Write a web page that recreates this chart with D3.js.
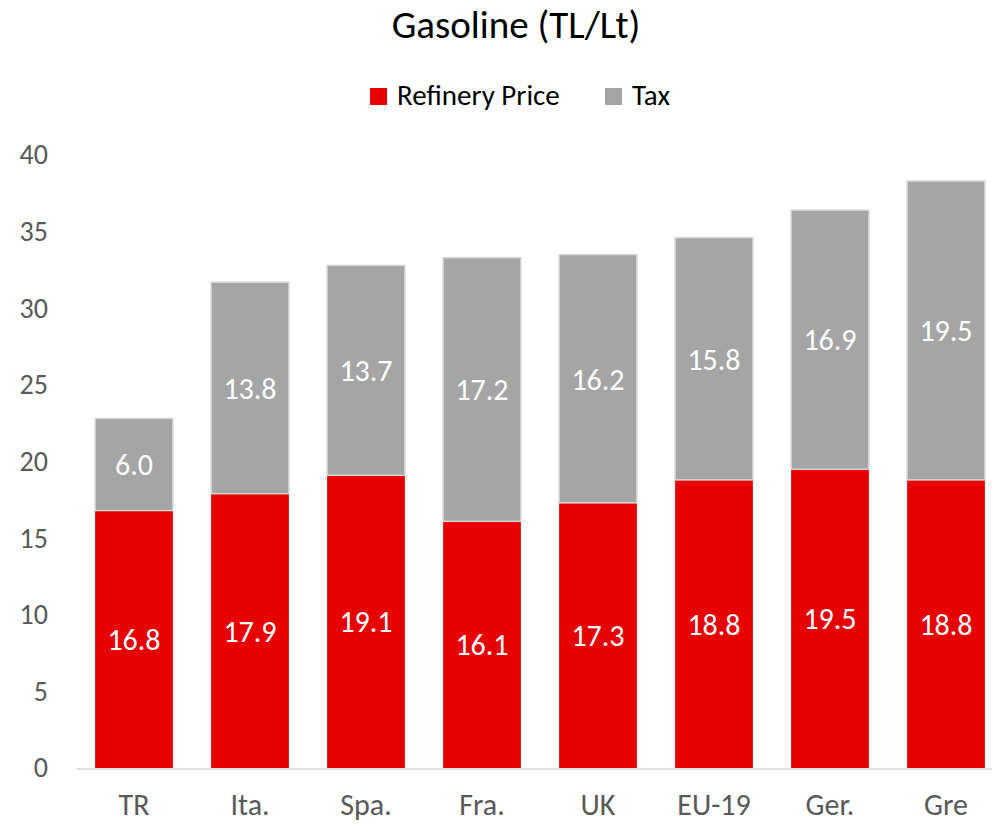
<!DOCTYPE html>
<html>
<head>
<meta charset="utf-8">
<script src="https://cdn.jsdelivr.net/npm/d3@7"></script>
<style>
  html, body { margin: 0; padding: 0; background: #fff; }
  svg { display: block; font-family: Carlito, "Open Sans", sans-serif; }
</style>
</head>
<body>
<svg id="chart" width="992" height="825"></svg>
<script>
// Gasoline price breakdown by country (TL per litre)
const categories = ["TR", "Ita.", "Spa.", "Fra.", "UK", "EU-19", "Ger.", "Gre"];
const refineryPrice = [16.8, 17.9, 19.1, 16.1, 17.3, 18.8, 19.5, 18.8];
const tax = [6.0, 13.8, 13.7, 17.2, 16.2, 15.8, 16.9, 19.5];
const yTicks = [0, 5, 10, 15, 20, 25, 30, 35, 40];
const seriesNames = ["Refinery Price", "Tax"];
const seriesColors = ["#E60000", "#A5A5A5"];

const FONT = "Carlito, 'Open Sans', sans-serif";
const svg = d3.select("#chart");

const x = d3.scaleBand()
  .domain(categories)
  .range([76, 1004])
  .paddingInner(0.33)
  .paddingOuter(0.165);

const y = d3.scaleLinear()
  .domain([0, 40])
  .range([768, 155]);

// Stack the two components
const rows = categories.map((c, i) => ({ cat: c, "Refinery Price": refineryPrice[i], "Tax": tax[i] }));
const stacked = d3.stack().keys(seriesNames)(rows);

// Title
svg.append("text")
  .attr("x", 516)
  .attr("y", 38)
  .attr("text-anchor", "middle")
  .attr("font-size", 39)
  .attr("fill", "#000")
  .text("Gasoline (TL/Lt)");

// Legend
const legend = svg.append("g");
const legendItems = [
  { name: seriesNames[0], color: seriesColors[0], x: 370 },
  { name: seriesNames[1], color: seriesColors[1], x: 605 }
];
legendItems.forEach(d => {
  legend.append("rect")
    .attr("x", d.x).attr("y", 88)
    .attr("width", 17).attr("height", 17)
    .attr("fill", d.color);
  legend.append("text")
    .attr("x", d.x + 27).attr("y", 105)
    .attr("font-size", 29)
    .attr("fill", "#000")
    .text(d.name);
});

// Y axis tick labels (no axis line)
const yAxis = d3.axisLeft(y).tickValues(yTicks).tickSize(0).tickPadding(0);
const yg = svg.append("g").attr("transform", "translate(48,0)").call(yAxis);
yg.select(".domain").remove();
yg.selectAll("text")
  .attr("font-size", 28)
  .attr("fill", "#595959")
  .attr("font-family", FONT);

// Bars
const layers = svg.append("g").selectAll("g")
  .data(stacked)
  .join("g")
  .attr("fill", (d, i) => seriesColors[i])
  .attr("stroke", (d, i) => i === 0 ? "none" : "#D4D4D4")
  .attr("stroke-width", 1.5);

layers.selectAll("rect")
  .data(d => d)
  .join("rect")
  .attr("x", d => x(d.data.cat))
  .attr("y", d => y(d[1]))
  .attr("width", x.bandwidth())
  .attr("height", d => y(d[0]) - y(d[1]));

// Value labels centred in each segment
const labels = svg.append("g");
stacked.forEach(layer => {
  labels.selectAll(null)
    .data(layer)
    .join("text")
    .attr("x", d => x(d.data.cat) + x.bandwidth() / 2)
    .attr("y", d => y((d[0] + d[1]) / 2))
    .attr("dy", "0.36em")
    .attr("text-anchor", "middle")
    .attr("font-size", 30)
    .attr("fill", "#fff")
    .text(d => (d[1] - d[0]).toFixed(1));
});

// X axis baseline and labels
const xAxis = d3.axisBottom(x).tickSize(0).tickPadding(26);
const xg = svg.append("g").attr("transform", "translate(0,768)").call(xAxis);
xg.select(".domain").remove();
svg.append("line")
  .attr("x1", 77).attr("x2", 992)
  .attr("y1", 769).attr("y2", 769)
  .attr("stroke", "#D9D9D9")
  .attr("stroke-width", 1.5);
xg.selectAll("text")
  .attr("font-size", 30)
  .attr("fill", "#595959")
  .attr("font-family", FONT);
</script>
</body>
</html>
